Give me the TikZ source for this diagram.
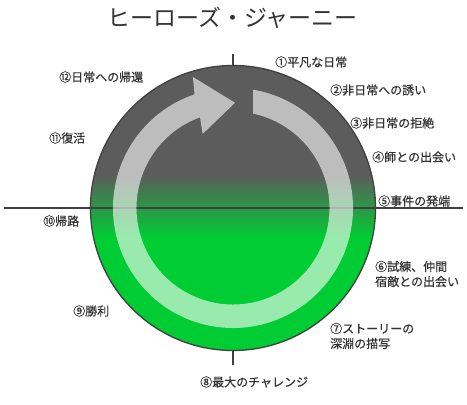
\documentclass[tikz,border=0pt]{standalone}
\usepackage{fontspec}
\setmainfont{Noto Sans CJK JP}
\newfontfamily\labelfont{Noto Sans CJK JP}[FakeBold=0.6]
\usetikzlibrary{positioning}

\definecolor{darkgray}{HTML}{5C5C5C}
\definecolor{brightgreen}{HTML}{00CC33}
\definecolor{edgegray}{HTML}{404040}
\definecolor{textgray}{HTML}{333333}

\tikzset{
  label/.style={anchor=west, inner sep=0pt, text=textgray, font=\labelfont\fontsize{12}{15}\selectfont, align=left},
  title/.style={inner sep=0pt, text=textgray, font=\fontsize{23}{26}\selectfont},
  ringfill/.style={fill=white, fill opacity=0.6},
  edge/.style={draw=edgegray, line width=1.3pt}
}

\begin{document}
\begin{tikzpicture}[x=1pt, y=1pt]
      \useasboundingbox (0,0) rectangle (467,405);
      \coordinate (C) at (233,197);

      % circle with gradient
      \begin{scope}
        \clip (C) circle (142.5);
        \fill[darkgray] (80,230) rectangle (390,345);
        \shade[top color=darkgray, bottom color=brightgreen] (80,168) rectangle (390,230.5);
        \fill[brightgreen] (80,50) rectangle (390,168.5);
      \end{scope}
      \draw[edge] (C) circle (142.5);

      % axes
      \draw[edge] (4,197) -- (463,197);
      \draw[edge] (233,339.5) -- (233,351);
      \draw[edge] (233,54.5) -- (233,40);

      % ring arrow
      \begin{scope}[shift={(C)}]
        \fill[ringfill] (80.4:120) arc[start angle=80.4, end angle=-251.3, radius=120]
          -- (-253:137) -- (-271.1:105.3) -- (-247.7:80)
          -- (-250:96.5) arc[start angle=-250, end angle=78, radius=96.5] -- cycle;
      \end{scope}

      % labels
      \node[title] (heading) at (232.5,387) {ヒーローズ・ジャーニー};
      \node[label] (s1) at (275,343) {①平凡な日常};
      \node[label] (s2) at (330,315) {②非日常への誘い};
      \node[label] (s3) at (350,282) {③非日常の拒絶};
      \node[label] (s4) at (372,248) {④師との出会い};
      \node[label] (s5) at (378,204) {⑤事件の発端};
      \node[label] (s6) at (375,131) {⑥試練、仲間\\宿敵との出会い};
      \node[label] (s7) at (330,69) {⑦ストーリーの\\深淵の描写};
      \node[label] (s8) at (200,23) {⑧最大のチャレンジ};
      \node[label] (s9) at (73,94) {⑨勝利};
      \node[label] (s10) at (43,184) {⑩帰路};
      \node[label] (s11) at (49,267) {⑪復活};
      \node[label] (s12) at (59,328) {⑫日常への帰還};
\end{tikzpicture}
\end{document}
